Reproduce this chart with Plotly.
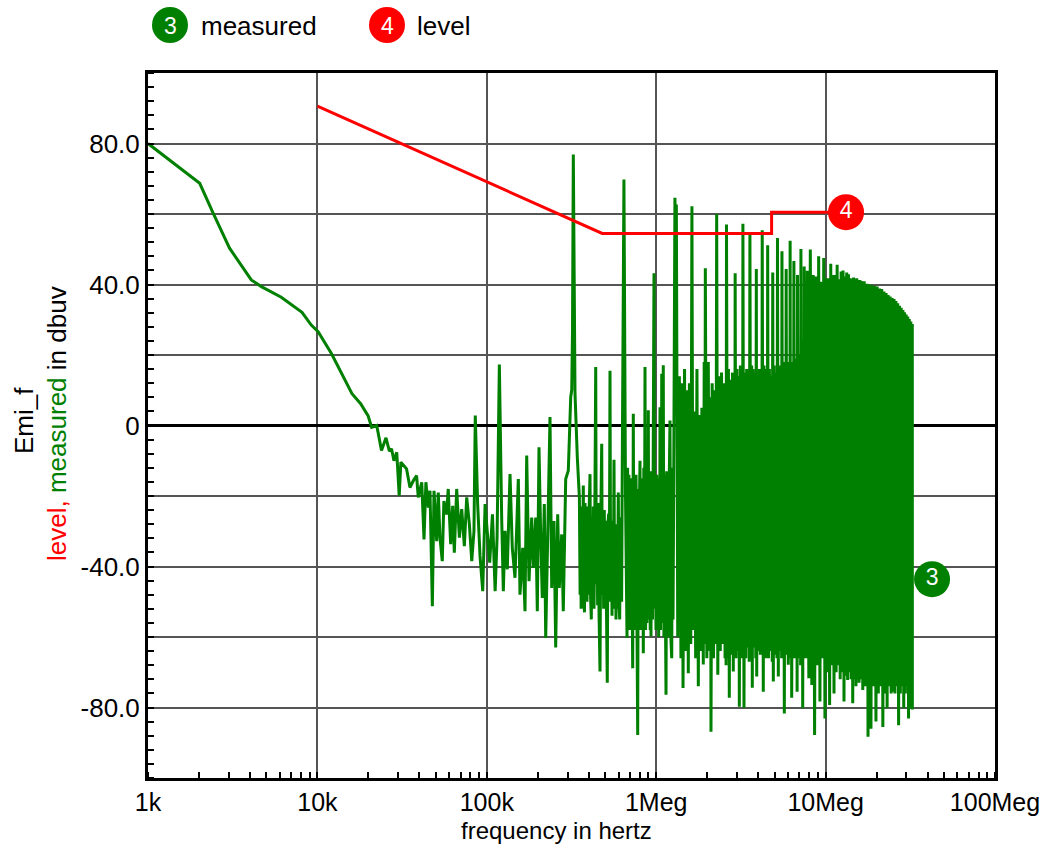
import plotly.graph_objects as go

# ---------------- data ----------------
# smooth low-frequency part of "measured" (kHz, dBuV)
smooth_freq_khz = [1.0, 2.02, 2.42, 3.03, 4.07, 4.67, 6.12, 8.11, 9.2, 10.1, 12.1, 13.4, 14.6, 16.0,
                   18.0, 19.9, 20.9, 22.4, 23.9, 25.4, 26.6, 27.4, 28.3, 29.4, 30.4, 31.1]
smooth_db = [80.0, 68.7, 60.3, 50.3, 41.3, 39.4, 36.4, 32.1, 28.5, 26.6, 20.4, 16.2, 12.8, 9.0,
             6.2, 2.8, -0.5, 0.0, -7.1, -3.5, -7.3, -6.6, -10.0, -7.6, -19.9, -10.4]

# noisy middle part (kHz, dBuV)
noise_freq_khz = [33.6, 35.2, 36.8, 38.5, 39.4, 41.3, 42.6, 43.7, 45.2, 46.2, 47.7, 48.8, 50.6, 51.7,
                  52.9, 54.6, 55.8, 57.9, 59.2, 61.2, 62.9, 64.3, 66.4, 68.9, 71.1, 73.7, 76.1, 78.9,
                  81.5, 84.0, 85.5, 88.3, 91.2, 94.6, 97.7, 101, 104, 108, 112, 115, 118.6, 122.4,
                  125.2, 128.1, 132.1, 137.1, 141.4, 146.7, 153.5, 157, 162.9, 168.1, 172, 177.5,
                  184.1, 188.2, 194.4, 198.7, 203.3, 208.1, 212.6, 218.5, 222.7, 228.8, 236.1, 241.6,
                  249.3, 255.1, 262.1, 267.9, 276.7, 282.8, 292.3, 302.8, 312.9, 317.2, 320.6, 324.1,
                  331.7, 342.2, 352.0,
                  355.5, 358.0, 360.5, 363.0, 366.0, 368.5, 371.3, 374.0, 377.4, 380.0, 383.6, 387.0,
                  390.5, 394.0, 397.5, 402.0, 406.7, 410.0, 414.0, 418.0, 421.9, 425.5, 429.5, 434.0,
                  439.5, 443.0, 447.3, 451.0, 455.3, 460.0, 465.9, 471.0, 476.8, 481.0, 485.3, 489.5,
                  493.9, 498.5, 503.4, 508.5, 514.4, 519.0, 524.3, 528.5, 533.7, 538.5, 543.3, 548.5,
                  553.6, 558.5, 563.5, 568.5, 573.6, 579.0, 584.6, 591.0, 597.5, 603.0, 608.9, 614.0,
                  619.8, 625.0, 630.8, 645.0,
                  658.9, 665, 672.5, 678, 684.4, 690, 695, 700.3, 706, 712.9, 719, 726.6,
                  732.5, 739, 746.6, 753, 760, 768, 777.7, 784, 791.6, 797, 802.4, 809,
                  816.8, 824, 832.4, 839.3, 845, 851, 858.9, 866, 874.3, 881, 888.5, 893,
                  898.3, 905, 913, 922, 927, 931.8, 941, 951, 960, 970.5, 979, 987.9,
                  997, 1007, 1016, 1025, 1034, 1043, 1048, 1053, 1060, 1068, 1073, 1078,
                  1084, 1090, 1095, 1101, 1110, 1119, 1131, 1143, 1153, 1163, 1174, 1185,
                  1195, 1206, 1220, 1235, 1246, 1257, 1270]
noise_db = [-12.3, -17.6, -15.7, -14.2, -20.4, -16.1, -32.3, -16.1, -23.3, -18.5, -51.3, -18.5, -32.8, -19.0,
            -31.8, -38.5, -21.4, -25.2, -18.0, -33.7, -22.8, -36.1, -18.0, -31.8, -23.7, -34.2, -20.4, -28.0,
            -38.5, -30.0, 2.8, -22.3, -37.0, -47.0, -22.3, -29.9, -38.9, -25.2, -47.0, -31.8, 17.3, -26.1,
            -47.0, -29.9, -40.8, -13.8, -34.7, -43.2, -15.2, -48.0, -34.7, -52.7, -8.5, -44.2,
            -26.1, -40.4, -26.1, -52.7, -6.2, -31.8, -48.9, -22.3, -60.3, -31.8, 2.4, -46.1,
            -27.1, -63.0, -25.2, -46.1, -30.9, -52.7, -15.2, -12.8, 8.1, 10.0, 27.0, 76.9,
            9.1, -9.0, -20.4,
            -48, -25, -52, -23, -46, -27, -17, -50, -53, -22, -47, -28,
            -50, -23, -48, -24, -13.8, -49, -55, -26, -50, -23, -52, -27,
            16.6, -45, -25, -51, -22, -54, -69.8, -26, -5.2, -48, -25, -52,
            -24, -50, -27, -52, -73, -28, -25, -50, 15.5, -50, -27, -54,
            -27, -50, -9.7, -52, -28, -55, -30, -52, -19, -50, -55, -26,
            -35, -50, -10, 69.8,
            -20, -55, -60.3, -12, -55, -14, -58, -15, -52, -15, -60, -68.9,
            3.3, -56, -14, -58, -14, -60, -87.8, -18, -56, -20, -10, -58,
            -15, -57, -15, -64.6, -12, -55, 16.6, -58, -14, -56, -12, -52,
            4.3, -55, -13, -58, -14, -59.8, -13, -55, -14, 43.2, -52, -20,
            -58, -14, -55, -15, -60, -16, -58, 5.2, -58, -16, -55, 14.7,
            -50, -14, -56, 17.1, -60, -14, -58, -76.4, -13, -60, -15, -60,
            -14, 1.4, -60, -66, -12, -55, -12]

# dense harmonic part (MHz, dBuV)
dense_freq_mhz = [1.29, 1.305, 1.315, 1.34, 1.37, 1.40, 1.42, 1.44, 1.47, 1.50, 1.52, 1.547, 1.57, 1.60,
                  1.625, 1.65, 1.68, 1.71, 1.74, 1.773, 1.80, 1.83, 1.86, 1.897, 1.92, 1.935,
                  1.95, 1.99, 2.03, 2.07, 2.09, 2.106, 2.14, 2.18, 2.22, 2.25,
                  2.275, 2.31, 2.35, 2.39, 2.43, 2.47, 2.51, 2.55, 2.575, 2.585,
                  2.60, 2.64, 2.67, 2.701, 2.74, 2.78, 2.82, 2.852, 2.88, 2.905,
                  2.925, 2.96, 3.00, 3.04, 3.07, 3.095, 3.14, 3.18, 3.21, 3.235,
                  3.25, 3.298, 3.34, 3.38, 3.42, 3.46, 3.50, 3.54,
                  3.575, 3.62, 3.66, 3.692, 3.73, 3.77, 3.82, 3.87,
                  3.90, 3.921, 3.97, 4.02, 4.07, 4.12, 4.16, 4.20,
                  4.225, 4.287, 4.33, 4.38, 4.43, 4.47, 4.50, 4.528,
                  4.55, 4.60, 4.66, 4.72, 4.78, 4.84,
                  4.875, 4.913, 4.97, 5.03, 5.09, 5.16,
                  5.20, 5.258, 5.32, 5.39, 5.46, 5.50,
                  5.525, 5.58, 5.64, 5.706, 5.77, 5.82,
                  5.85, 5.91, 5.97, 6.023, 6.09, 6.15,
                  6.175, 6.21, 6.26, 6.308, 6.38, 6.45,
                  6.50, 6.56, 6.63, 6.69, 6.75, 6.79,
                  6.825, 6.90, 6.98, 7.06, 7.10, 7.12,
                  7.15, 7.22, 7.28, 7.325, 7.40, 7.44,
                  7.475, 7.64, 7.80, 7.96, 8.125, 8.29, 8.45, 8.61, 8.775, 8.94, 9.10, 9.26,
                  9.425, 9.59, 9.75, 9.91, 10.075, 10.24, 10.40, 10.56, 10.725, 10.89, 11.05, 11.21,
                  11.375, 11.54, 11.70, 11.86, 12.025, 12.19, 12.35, 12.51, 12.675, 12.84, 13.00, 13.16,
                  13.325, 13.49, 13.65, 13.81, 13.975, 14.14, 14.30, 14.46, 14.625, 14.79, 14.95, 15.11,
                  15.275, 15.44, 15.60, 15.76, 15.925, 16.09, 16.25, 16.575, 16.90, 17.225, 17.55, 17.80,
                  18.20, 18.525, 18.85, 19.175, 19.50, 19.825, 20.15, 20.475, 20.80, 21.125, 21.45, 21.775,
                  22.10, 22.425, 22.75, 23.075, 23.40, 23.725, 24.05, 24.375, 24.70, 25.025, 25.35, 25.675,
                  26.00, 26.325, 26.65, 26.975, 27.30, 27.625, 27.95, 28.275, 28.60, 28.925, 29.25, 29.575,
                  29.90, 30.225, 30.55, 30.875, 31.20, 31.525, 31.85, 32.175, 32.50, 32.52]
dense_db = [64.6, 50, 62.7, -60, 14, -66, 12, -74.5, 16, -64, 10, -70.3, 12, -62,
            62.2, -58, 4, -66, 16, -74, 3, -64, 5, -67.8, 18, -62,
            44.6, -66, 18, -64, 8, -86.9, 12, -66, 10, -62,
            60.0, -70.7, 14, -64, 15, -62, 12, -66, 10, -68,
            57.0, -66, 16, -77.2, 13, -65, 15, -69.8, 14, -64,
            43.2, -66, 16, -64, 14, -79.8, 17, -66, 12, -65,
            57.2, -80.1, 15, -66, 16, -63, 14, -67,
            54.1, -66, 17, -74.4, 16, -63, 15, -66,
            44.4, -71.2, 14, -64, 16, -65, 15, -63,
            55.4, -75.5, 17, -64, 15, -66, 16, -64.1,
            51.1, -66, 16, -64, 14, -67,
            43.4, -72.6, 17, -65, 15, -66,
            53.2, -71.2, 17, -64, 16, -66,
            49.4, -65, 17, -81.7, 18, -64,
            44.4, -65, 18, -67.9, 17, -66,
            52.4, -64, 18, -77.2, 17, -66,
            46.7, -65, 19, -66, 18, -75.5,
            42.7, -66, 20, -65, 20, -68,
            50.1, -67, 22, -80.2, 24, -66,
            45.1, -66, 43.9, -71.7, 49.9, -73.6, 42.7, -87.8, 42.3, -68, 48.0, -78.3,
            40.8, -66, 47.5, -83.1, 41.8, -70, 41.8, -79.3, 45.9, -68, 42.7, -76,
            42.7, -70, 45.6, -68, 41.5, -72, 43.7, -70, 44.0, -78.3, 42.3, -71,
            43.4, -72.2, 42.9, -70, 41.8, -72, 41.6, -78.8, 42.0, -72, 41.5, -74,
            41.8, -72, 41.2, -73, 41.3, -72, 41.0, -75, 40.9, -74, 40.2, -88.3,
            40.0, -86, 39.8, -74, 39.6, -84, 39.4, -76, 38.9, -74, 38.7, -85.5,
            38.0, -76, 37.6, -80.2, 37.0, -74, 36.6, -76, 36.2, -75.5, 35.9, -76,
            35.3, -74, 34.7, -85, 34.0, -76, 33.4, -74, 32.8, -80.2, 32.1, -76,
            31.5, -74, 30.9, -83.1, 30.2, -76, 29.5, -80.2, 28.8, -80.6]

# limit line "level" (Hz, dBuV)
level_freq_hz = [10e3, 480e3, 4.8e6, 4.8e6, 13.2e6]
level_db = [90.6, 54.5, 54.5, 60.5, 60.5]

# trace label bubbles inside the plot
measured_label_hz, measured_label_db = 42.5e6, -43.6

x_tick_vals = [1e3, 1e4, 1e5, 1e6, 1e7, 1e8]
x_tick_text = ["1k", "10k", "100k", "1Meg", "10Meg", "100Meg"]
y_tick_vals = [-80, -60, -40, -20, 0, 20, 40, 60, 80]
y_tick_text = ["-80.0", "", "-40.0", "", "0", "", "40.0", "", "80.0"]

# ---------------- figure ----------------
GREEN = "#008000"
RED = "#ff0000"
FONT = "Liberation Sans, Arial, sans-serif"

meas_x = [f * 1e3 for f in smooth_freq_khz] + [f * 1e3 for f in noise_freq_khz] + [f * 1e6 for f in dense_freq_mhz]
meas_y = smooth_db + noise_db + dense_db

fig = go.Figure()
fig.add_trace(go.Scatter(x=meas_x, y=meas_y, mode="lines",
                         line=dict(color=GREEN, width=3), name="measured", showlegend=False))
fig.add_trace(go.Scatter(x=level_freq_hz, y=level_db, mode="lines",
                         line=dict(color=RED, width=3), name="level", showlegend=False))
fig.add_trace(go.Scatter(x=[level_freq_hz[-1]], y=[level_db[-1]], mode="markers+text",
                         marker=dict(size=36, color=RED), text=["4"], textposition="middle center",
                         textfont=dict(color="white", size=23, family=FONT), showlegend=False,
                         cliponaxis=False))
fig.add_trace(go.Scatter(x=[measured_label_hz], y=[measured_label_db], mode="markers+text",
                         marker=dict(size=36, color=GREEN), text=["3"], textposition="middle center",
                         textfont=dict(color="white", size=23, family=FONT), showlegend=False,
                         cliponaxis=False))

L, R, T, B = 148, 49, 73, 67
W, H = 1044, 845
PW, PH = W - L - R, H - T - B


def px(x):
    return (x - L) / PW


def py(y):
    return (H - B - y) / PH


shapes = []
annotations = []
for cx, col, num, label, tx in [(170, GREEN, "3", "measured", 199), (387, RED, "4", "level", 415)]:
    shapes.append(dict(type="circle", xref="paper", yref="paper", xsizemode="pixel", ysizemode="pixel",
                       xanchor=px(cx), yanchor=py(25), x0=-18, x1=18, y0=-18, y1=18,
                       fillcolor=col, line=dict(width=0)))
    annotations.append(dict(xref="paper", yref="paper", x=px(cx), y=py(26), text=num, showarrow=False,
                            xanchor="center", yanchor="middle", font=dict(color="white", size=23, family=FONT)))
    annotations.append(dict(xref="paper", yref="paper", x=px(tx), y=py(26), text=label, showarrow=False,
                            xanchor="left", yanchor="middle", font=dict(color="black", size=26, family=FONT)))

annotations.append(dict(xref="paper", yref="paper", x=px(556), y=py(830), text="frequency in hertz",
                        showarrow=False, xanchor="center", yanchor="middle",
                        font=dict(color="black", size=24, family=FONT)))
annotations.append(dict(xref="paper", yref="paper", x=px(24), y=py(421), text="Emi_f", textangle=-90,
                        showarrow=False, xanchor="center", yanchor="middle",
                        font=dict(color="black", size=26, family=FONT)))
annotations.append(dict(xref="paper", yref="paper", x=px(57), y=py(424),
                        text="<span style='color:#ff0000'>level,</span> "
                             "<span style='color:#008000'>measured</span> in dbuv",
                        textangle=-90, showarrow=False, xanchor="center", yanchor="middle",
                        font=dict(color="black", size=26, family=FONT)))

fig.update_layout(
    width=W, height=H,
    margin=dict(l=L, r=R, t=T, b=B, autoexpand=False),
    paper_bgcolor="white", plot_bgcolor="white",
    font=dict(family=FONT, size=25, color="black"),
    shapes=shapes, annotations=annotations,
    showlegend=False,
)
fig.update_xaxes(type="log", range=[3, 8], tickmode="array", tickvals=x_tick_vals, ticktext=x_tick_text,
                 automargin=False,
                 showgrid=True, gridcolor="#555555", gridwidth=1.5,
                 showline=True, linecolor="black", linewidth=3, mirror=True,
                 ticks="", tickfont=dict(size=25, family=FONT, color="black"),
                 minor=dict(ticks="inside", ticklen=6, tickcolor="black", tickwidth=1.5, dtick="D1", showgrid=False))
fig.update_yaxes(range=[-100, 100], tickmode="array", tickvals=y_tick_vals, ticktext=y_tick_text,
                 automargin=False,
                 showgrid=True, gridcolor="#555555", gridwidth=1.5,
                 zeroline=True, zerolinecolor="black", zerolinewidth=3,
                 showline=True, linecolor="black", linewidth=3, mirror=True,
                 ticks="", tickfont=dict(size=26, family=FONT, color="black"),
                 minor=dict(ticks="inside", ticklen=6, tickcolor="black", tickwidth=1.5, dtick=4, showgrid=False))

fig.write_html("out.html", config={"displayModeBar": False},
               post_script="document.body.style.margin='0';document.body.style.padding='0';"
                           "document.body.style.overflow='hidden';")
